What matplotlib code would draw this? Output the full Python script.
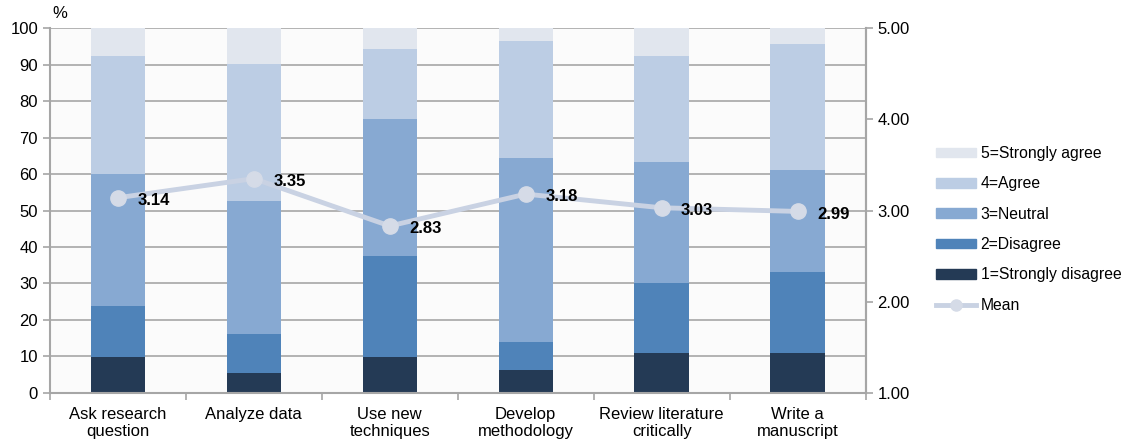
import numpy as np
import matplotlib
matplotlib.use('Agg')
import matplotlib.pyplot as plt
from matplotlib.patches import Patch
from matplotlib.lines import Line2D

plt.rcParams['font.family'] = ['Liberation Sans', 'DejaVu Sans']

categories = ['Ask research\nquestion', 'Analyze data', 'Use new\ntechniques',
              'Develop\nmethodology', 'Review literature\ncritically', 'Write a\nmanuscript']
# percentages per response level (1..5)
strongly_disagree = [9.7, 5.3, 9.7, 6.3, 10.8, 10.8]
disagree = [14.0, 10.9, 27.9, 7.7, 19.3, 22.4]
neutral = [36.4, 36.4, 37.6, 50.5, 33.3, 27.9]
agree = [32.3, 37.7, 19.2, 32.1, 29.0, 34.5]
strongly_agree = [7.6, 9.7, 5.6, 3.4, 7.6, 4.4]
means = [3.14, 3.35, 2.83, 3.18, 3.03, 2.99]

series = [('1=Strongly disagree', strongly_disagree, '#243a55'),
          ('2=Disagree', disagree, '#4f83b9'),
          ('3=Neutral', neutral, '#87a9d2'),
          ('4=Agree', agree, '#bccde4'),
          ('5=Strongly agree', strongly_agree, '#e1e6ee')]
mean_color = '#c9d2e3'
grid_color = '#a6a6a6'

fig = plt.figure(figsize=(11.33, 4.42), dpi=100)
ax = fig.add_axes([0.044, 0.1115, 0.72, 0.8245])
ax.set_facecolor('#fbfbfb')

x = np.arange(len(categories))
bottom = np.zeros(len(categories))
for name, vals, col in series:
    ax.bar(x, vals, 0.4, bottom=bottom, color=col, zorder=2)
    bottom += np.array(vals)

ax.set_xlim(-0.5, len(categories) - 0.5)
ax.set_ylim(0, 100)
ax.set_yticks(range(0, 101, 10))
ax.yaxis.grid(True, color=grid_color, linewidth=1.2, zorder=0)
ax.set_axisbelow(True)
ax.set_xticks(x)
ax.set_xticklabels(categories, fontsize=12)
ax.set_xticks(np.arange(-0.5, len(categories)), minor=True)
ax.tick_params(axis='x', which='major', length=0, pad=10)
ax.tick_params(axis='x', which='minor', length=5, color=grid_color, width=1.2)
ax.tick_params(axis='y', length=5, color=grid_color, width=1.2, labelsize=12)
ax.spines['top'].set_visible(False)
for s in ['left', 'bottom', 'right']:
    ax.spines[s].set_color(grid_color)
    ax.spines[s].set_linewidth(1.5)
ax.text(-0.48, 102, '%', fontsize=12, va='bottom', ha='left')

ax2 = ax.twinx()
ax2.plot(x, means, color=mean_color, linewidth=3.5, marker='o', markersize=11,
         markerfacecolor='#d5dbe7', markeredgecolor='#d5dbe7', zorder=5)
for xi, m in zip(x, means):
    ax2.annotate(f'{m:.2f}', (xi, m), xytext=(14, -2), textcoords='offset points',
                 ha='left', va='center', fontsize=12, fontweight='bold', zorder=10)
ax2.set_ylim(1, 5)
ax2.set_yticks([1, 2, 3, 4, 5])
ax2.set_yticklabels([f'{v:.2f}' for v in [1, 2, 3, 4, 5]])
ax2.tick_params(axis='y', length=5, color=grid_color, width=1.2, labelsize=12)
for s in ['top', 'left', 'bottom']:
    ax2.spines[s].set_visible(False)
ax2.spines['right'].set_color(grid_color)
ax2.spines['right'].set_linewidth(1.5)

handles = [Patch(color=col) for _, _, col in reversed(series)]
handles.append(Line2D([0], [0], color=mean_color, linewidth=3.5, marker='o',
                      markersize=8, markerfacecolor='#d5dbe7', markeredgecolor='#d5dbe7'))
labels = [name for name, _, _ in reversed(series)] + ['Mean']
fig.legend(handles, labels, loc='center left', bbox_to_anchor=(0.826, 0.481),
           frameon=False, fontsize=11.3, handlelength=2.55, handleheight=0.55,
           labelspacing=0.98, handletextpad=0.3, borderpad=0, borderaxespad=0)

fig.savefig('out.png', dpi=100)
